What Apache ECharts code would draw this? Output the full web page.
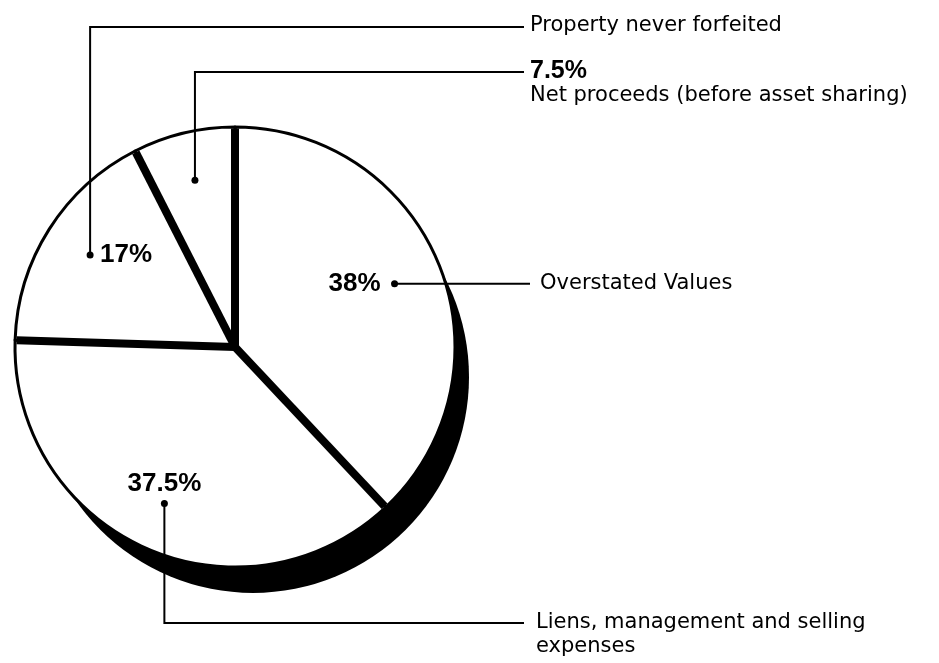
<!DOCTYPE html>
<html>
<head>
<meta charset="utf-8">
<script src="https://cdn.jsdelivr.net/npm/echarts@6/dist/echarts.min.js"></script>
<style>
  html, body { margin: 0; padding: 0; background: #fff; }
  #main { width: 939px; height: 663px; }
</style>
</head>
<body>
<div id="main"></div>
<script>
// data
var categories = ['Overstated Values', 'Liens, management and selling\nexpenses', 'Property never forfeited', 'Net proceeds (before asset sharing)'];
var values = [38, 37.5, 17, 7.5];
var pctLabels = ['38%', '37.5%', '17%', '7.5%'];

var myChart = echarts.init(document.getElementById('main'));

// pie geometry
var cx = 235, cy = 347, R = 220;
var FONT = "'Liberation Sans', Arial, sans-serif";
var NAME_FONT = "'DejaVu Sans', sans-serif";
var lineEnd = 524, textX = 530;

// slice boundaries and anchor dots (mid angle, 0.78 of radius)
var total = values.reduce(function(a, b) { return a + b; }, 0);
var anchors = [], bounds = [];
var acc = 0;
for (var i = 0; i < values.length; i++) {
  bounds.push(acc / total * Math.PI * 2);
  var mid = (acc + values[i] / 2) / total * Math.PI * 2; // clockwise from 12 o'clock
  acc += values[i];
  anchors.push([cx + R * 0.78 * Math.sin(mid), cy - R * 0.78 * Math.cos(mid)]);
}

function line(pts, w) {
  return { type: 'polyline', silent: true, z: 10, shape: { points: pts }, style: { stroke: '#000', lineWidth: w || 2, fill: null, lineCap: 'butt' } };
}
function dot(p) {
  return { type: 'circle', silent: true, z: 11, shape: { cx: p[0], cy: p[1], r: 3.5 }, style: { fill: '#000' } };
}
function txt(s, x, y, font, align, valign) {
  return {
    type: 'text', silent: true, z: 12, x: x, y: y,
    style: { text: s, font: font, fill: '#000', align: align, textAlign: align, verticalAlign: valign, textVerticalAlign: valign, lineHeight: 24 }
  };
}

var nameFont = '21px ' + NAME_FONT;
var pctFont = 'bold 26px ' + FONT;
var g = [];

// thick separators between slices
bounds.forEach(function(t) {
  var r = R - 1.5;
  g.push(line([[cx, cy], [cx + r * Math.sin(t), cy - r * Math.cos(t)]], 8));
});

// 38% - Overstated Values
var a = anchors[0];
g.push(line([a, [lineEnd + 6, a[1]]]), dot(a));
g.push(txt(pctLabels[0], a[0] - 14, a[1], pctFont, 'right', 'middle'));
g.push(txt(categories[0], textX + 10, a[1], nameFont, 'left', 'middle'));

// 37.5% - Liens...
a = anchors[1];
g.push(line([a, [a[0], 623], [lineEnd, 623]]), dot(a));
g.push(txt(pctLabels[1], a[0], a[1] - 8, pctFont, 'center', 'bottom'));
g.push(txt(categories[1], textX + 6, 611, nameFont, 'left', 'top'));

// 17% - Property never forfeited
a = anchors[2];
g.push(line([a, [a[0], 27], [lineEnd, 27]]), dot(a));
g.push(txt(pctLabels[2], a[0] + 10, a[1], pctFont, 'left', 'middle'));
g.push(txt(categories[2], textX, 26, nameFont, 'left', 'middle'));

// 7.5% - Net proceeds
a = anchors[3];
g.push(line([a, [a[0], 72], [lineEnd, 72]]), dot(a));
g.push(txt(pctLabels[3], textX, 71, 'bold 25px ' + FONT, 'left', 'middle'));
g.push(txt(categories[3], textX, 96, nameFont, 'left', 'middle'));

var option = {
  animation: false,
  backgroundColor: '#fff',
  graphic: { elements: g },
  series: [{
    // dark side of the disc
    type: 'pie',
    silent: true,
    center: [cx + 18, cy + 30],
    radius: R - 4,
    label: { show: false },
    labelLine: { show: false },
    itemStyle: { color: '#000' },
    data: [{ value: 1, name: 'side' }]
  }, {
    type: 'pie',
    silent: true,
    center: [cx, cy],
    radius: R,
    startAngle: 90,
    clockwise: true,
    avoidLabelOverlap: false,
    label: { show: false },
    labelLine: { show: false },
    itemStyle: { color: '#fff', borderColor: '#000', borderWidth: 3 },
    data: categories.map(function(c, i) { return { name: c, value: values[i] }; })
  }]
};

myChart.setOption(option);
</script>
</body>
</html>
